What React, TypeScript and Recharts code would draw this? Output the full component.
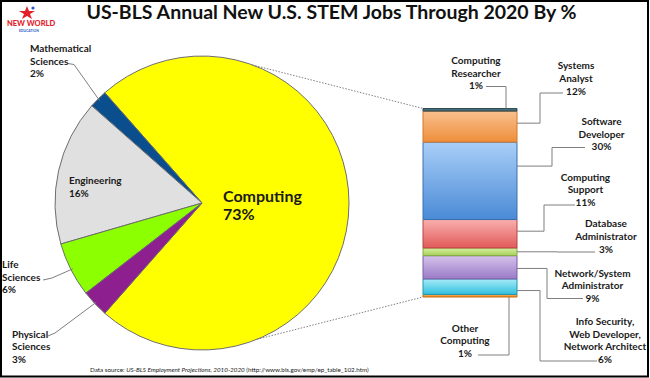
import React from "react";
import { PieChart, Pie, Cell, BarChart, Bar, XAxis, YAxis } from "recharts";

// main pie: share of new STEM jobs
const pieNames = ["Computing", "Mathematical Sciences", "Engineering", "Life Sciences", "Physical Sciences"];
const pieValues = [73, 2, 16, 6, 3];
const pieColors = ["#FFFF00", "#0B4E8E", "#E0E0E0", "#8CFF00", "#8E1F8E"];

// breakdown of computing, bottom of the bar first
const subNames = [
  "Other Computing",
  "Info Security, Web Developer, Network Architect",
  "Network/System Administrator",
  "Database Administrator",
  "Computing Support",
  "Software Developer",
  "Systems Analyst",
  "Computing Researcher",
];
const subValues = [1, 6, 9, 3, 11, 30, 12, 1];
const subLines = [
  ["Other", "Computing"],
  ["Info Security,", "Web Developer,", "Network Architect"],
  ["Network/System", "Administrator"],
  ["Database", "Administrator"],
  ["Computing", "Support"],
  ["Software", "Developer"],
  ["Systems", "Analyst"],
  ["Computing", "Researcher"],
];
const subTop = ["#F7B466", "#A8ECF8", "#D6C2EC", "#D9EFA4", "#F8B0AE", "#A9CFF8", "#F9C08E", "#4F7682"];
const subBottom = ["#E8861C", "#2FC0DE", "#9A7BC6", "#A4D058", "#E25A5A", "#4A8AD6", "#EE8E3A", "#3A5F6A"];
const subStroke = ["#C86A10", "#2495AE", "#7A5EA6", "#86AA40", "#B84444", "#3A70B0", "#D4782A", "#2E4D57"];

const FONT = "Lato, 'Liberation Sans', sans-serif";
const PIE_CX = 202;
const PIE_CY = 203;
const PIE_R = 147;
const RAD = Math.PI / 180;

const pieData = pieNames.map((name, i) => ({ name, value: pieValues[i] }));
const barRow: Record<string, any> = { name: "Computing" };
subValues.forEach((v, i) => (barRow["s" + i] = v));
const barRows = [barRow];

// label placement for the pie slices
const pieLabelPos = [
  { lines: ["Computing", "73%"], x: 223, y: 202, size: 16, gap: 18, leader: null },
  { lines: ["Mathematical", "Sciences", "2%"], x: 30, y: 51.7, size: 10, gap: 12.8, leader: [[74, 64.5], [68, 63.5]] },
  { lines: ["Engineering", "16%"], x: 69, y: 184, size: 10, gap: 12.8, leader: null },
  { lines: ["Life", "Sciences", "6%"], x: 2, y: 268.3, size: 10, gap: 12.5, leader: [[52, 278], [43, 280]] },
  { lines: ["Physical", "Sciences", "3%"], x: 12, y: 337.7, size: 10, gap: 12.5, leader: [[55, 333], [48, 336]] },
];

const PieLabel = (props: any) => {
  const { cx, cy, midAngle, outerRadius, index } = props;
  const p = pieLabelPos[index];
  let leader = null;
  if (p.leader) {
    const ax = cx + (outerRadius - 2) * Math.cos(-midAngle * RAD);
    const ay = cy + (outerRadius - 2) * Math.sin(-midAngle * RAD);
    const pts = [[ax, ay], ...p.leader].map((q) => q.join(",")).join(" ");
    leader = <polyline points={pts} fill="none" stroke="#7F7F7F" strokeWidth={1} />;
  }
  return (
    <g>
      {leader}
      <text x={p.x} y={p.y} fontFamily={FONT} fontSize={p.size} fontWeight="bold" fill="#1A1A1A">
        {p.lines.map((l, k) => (
          <tspan key={k} x={p.x} y={p.y + k * p.gap}>
            {l}
          </tspan>
        ))}
      </text>
    </g>
  );
};

// connector layout for each bar segment
const barLabelPos = [
  { side: "bottom", off: 86, endY: 355, endX: 478, cx: 465, y: 331.5 },
  { side: "right", frac: 0.75, elbowX: 540, endY: 361, endX: 597, cx: 605, y: 325 },
  { side: "right", frac: 0.55, elbowX: 547, endY: 298.5, endX: 583, cx: 592.5, y: 276.7 },
  { side: "right", frac: 0.5, elbowX: 557, endY: 252, endX: 595, cx: 606, y: 227.3 },
  { side: "right", frac: 0.41, elbowX: 544, endY: 205, endX: 575, cx: 585.5, y: 180.7 },
  { side: "right", frac: 0.31, elbowX: 552, endY: 147.5, endX: 585, cx: 601.5, y: 125 },
  { side: "right", frac: 0.39, elbowX: 540, endY: 93, endX: 563, cx: 576, y: 69.3 },
  { side: "top", off: 83, endY: 86.5, endX: 486, cx: 476, y: 64 },
];

const makeBarLabel = (i: number) => (props: any) => {
  const { x, y, width, height } = props;
  const p: any = barLabelPos[i];
  let d = "";
  if (p.side === "right") {
    const sy = y + height * p.frac;
    d = `M${x + width},${sy} H${p.elbowX} V${p.endY} H${p.endX}`;
  } else if (p.side === "top") {
    d = `M${x + p.off},${y} V${p.endY} H${p.endX}`;
  } else {
    d = `M${x + p.off},${y + height} V${p.endY} H${p.endX}`;
  }
  const lines = [...subLines[i], subValues[i] + "%"];
  let dotted = null;
  if (i === subValues.length - 1) {
    const px = PIE_CX + PIE_R * Math.cos(70 * RAD);
    const py = PIE_CY - PIE_R * Math.sin(70 * RAD);
    dotted = <line x1={px} y1={py} x2={x} y2={y} stroke="#808080" strokeDasharray="1.5 1.5" />;
  } else if (i === 0) {
    const px = PIE_CX + PIE_R * Math.cos(-68 * RAD);
    const py = PIE_CY - PIE_R * Math.sin(-68 * RAD);
    dotted = <line x1={px} y1={py} x2={x} y2={y + height} stroke="#808080" strokeDasharray="1.5 1.5" />;
  }
  return (
    <g>
      {dotted}
      <path d={d} fill="none" stroke="#7F7F7F" strokeWidth={1} />
      <text x={p.cx} y={p.y} fontFamily={FONT} fontSize={10} fontWeight="bold" fill="#1A1A1A" textAnchor="middle">
        {lines.map((l, k) => (
          <tspan key={k} x={p.cx} y={p.y + k * 12.6}>
            {l}
          </tspan>
        ))}
      </text>
    </g>
  );
};

const Logo = () => (
  <g>
    <polygon points="27,6 29,11 35,11 30,14 32,19 27,16 22,19 24,14 19,11 25,11" fill="#E3212B" />
    <circle cx={33} cy={8} r={1.6} fill="#2A5BC4" />
    <text x={7} y={26} fontFamily={FONT} fontSize={7.5} fontWeight="900" fill="#E3212B">
      NEW WORLD
    </text>
    <text x={19} y={31.5} fontFamily={FONT} fontSize={3.4} fontWeight="bold" fill="#2A5BC4">
      EDUCATION
    </text>
  </g>
);

const App = () => {
  return (
    <div style={{ position: "absolute", left: 0, top: 0, width: 650, height: 378, background: "#fff" }}>
      <div style={{ position: "absolute", left: 0, top: 0 }}>
        <PieChart width={650} height={378} margin={{ top: 0, right: 0, bottom: 0, left: 0 }}>
          <Pie
            data={pieData}
            dataKey="value"
            nameKey="name"
            cx={PIE_CX}
            cy={PIE_CY}
            outerRadius={PIE_R}
            startAngle={-131.4}
            endAngle={228.6}
            stroke="#6E6E6E"
            strokeWidth={1}
            label={PieLabel}
            labelLine={false}
            isAnimationActive={false}
          >
            {pieData.map((d, i) => (
              <Cell key={d.name} fill={pieColors[i]} />
            ))}
          </Pie>
        </PieChart>
      </div>
      <div style={{ position: "absolute", left: 0, top: 0 }}>
        <BarChart
          width={650}
          height={378}
          data={barRows}
          margin={{ top: 108.5, right: 133, bottom: 81, left: 423 }}
          barCategoryGap={0}
        >
          <defs>
            {subValues.map((_, i) => (
              <linearGradient key={i} id={"seg" + i} x1="0" y1="0" x2="0" y2="1">
                <stop offset="0%" stopColor={subTop[i]} />
                <stop offset="100%" stopColor={subBottom[i]} />
              </linearGradient>
            ))}
          </defs>
          <XAxis dataKey="name" hide />
          <YAxis hide domain={[0, 73]} />
          {subValues.map((_, i) => (
            <Bar
              key={i}
              dataKey={"s" + i}
              name={subNames[i]}
              stackId="computing"
              fill={`url(#seg${i})`}
              stroke={subStroke[i]}
              strokeWidth={1}
              label={makeBarLabel(i)}
              isAnimationActive={false}
            />
          ))}
        </BarChart>
      </div>
      <svg width={650} height={378} style={{ position: "absolute", left: 0, top: 0, pointerEvents: "none" }}>
        <Logo />
        <text x={331.5} y={19} textAnchor="middle" fontFamily={FONT} fontSize={19.5} fontWeight="bold" fill="#111">
          US-BLS Annual New U.S. STEM Jobs Through 2020 By %
        </text>
        <text x={90} y={372} fontFamily={FONT} fontSize={6.3} fill="#222">
          Data source: <tspan fontStyle="italic">US-BLS Employment Projections, 2010-2020</tspan> (http://www.bls.gov/emp/ep_table_102.htm)
        </text>
        <rect x={1} y={1} width={647} height={375.5} fill="none" stroke="#000" strokeWidth={2} />
      </svg>
    </div>
  );
};

export default App;
